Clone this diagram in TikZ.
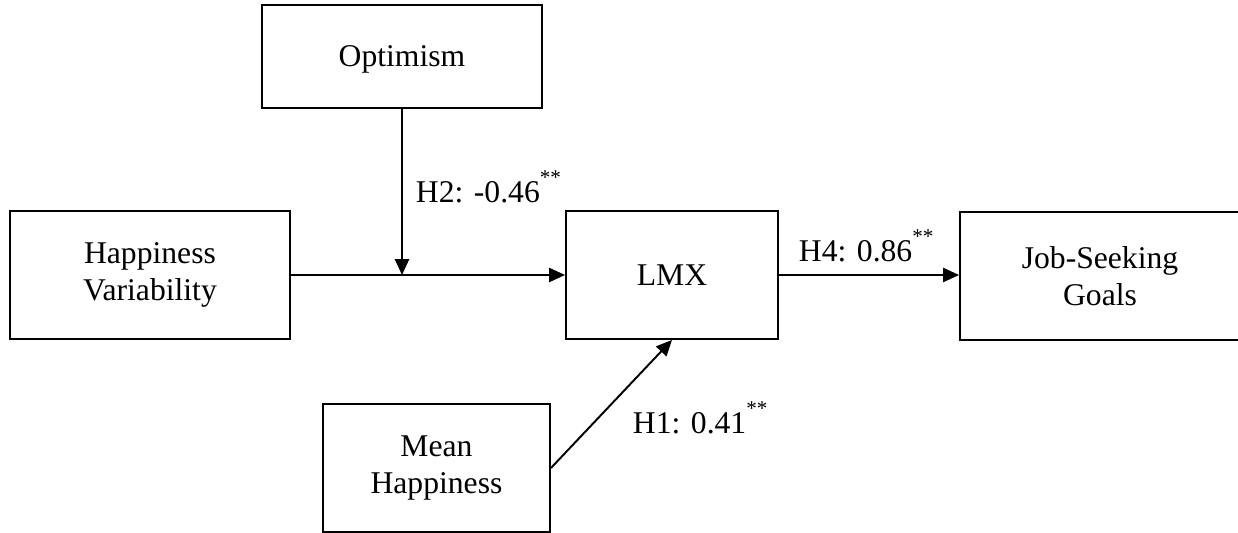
\documentclass[tikz,border=0pt]{standalone}
\usepackage{fontspec}
\setmainfont{Liberation Serif}
\usetikzlibrary{arrows.meta}
\newcommand{\sigstars}{\raisebox{10.5pt}{\fontsize{12}{12}\selectfont **}}

\begin{document}
\begin{tikzpicture}[>={Triangle[length=9pt,width=8pt]}, line width=1.1pt,
    box/.style={draw, minimum width=5.6cm, minimum height=2.56cm, align=center,
      font=\fontsize{18}{21}\selectfont},
    lab/.style={anchor=base west, inner sep=0pt, font=\fontsize{18}{21}\selectfont}]
  \useasboundingbox (0,0) rectangle (24.76,-10.66);
  % variables
  \node[box, minimum height=2.06cm, text depth=0pt] (opt) at (8.04,-1.13) {Optimism};
  \node[box] (hv) at (3.0,-5.5) {Happiness\\Variability};
  \node[box, minimum width=4.24cm] (lmx) at (13.44,-5.5) {LMX};
  \node[box] (jsg) at (22.0,-5.52) {Job-Seeking\\Goals};
  \node[box, minimum width=4.54cm] (mh) at (8.73,-9.36) {Mean\\Happiness};
  \coordinate (mod) at (opt.south |- hv.east);
  % paths
  \draw[->] (hv) -- (lmx);
  \draw[->] (opt) -- (mod);
  \draw[->] (lmx.east) -- (jsg.west |- lmx.east);
  \draw[->] (mh.east) -- (lmx.south);
  % coefficients
  \node[lab] (h2) at (8.30,-4.06) {H2: -0.46\sigstars};
  \node[lab] (h4) at (15.96,-5.24) {H4: 0.86\sigstars};
  \node[lab] (h1) at (12.64,-8.68) {H1: 0.41\sigstars};
\end{tikzpicture}
\end{document}
